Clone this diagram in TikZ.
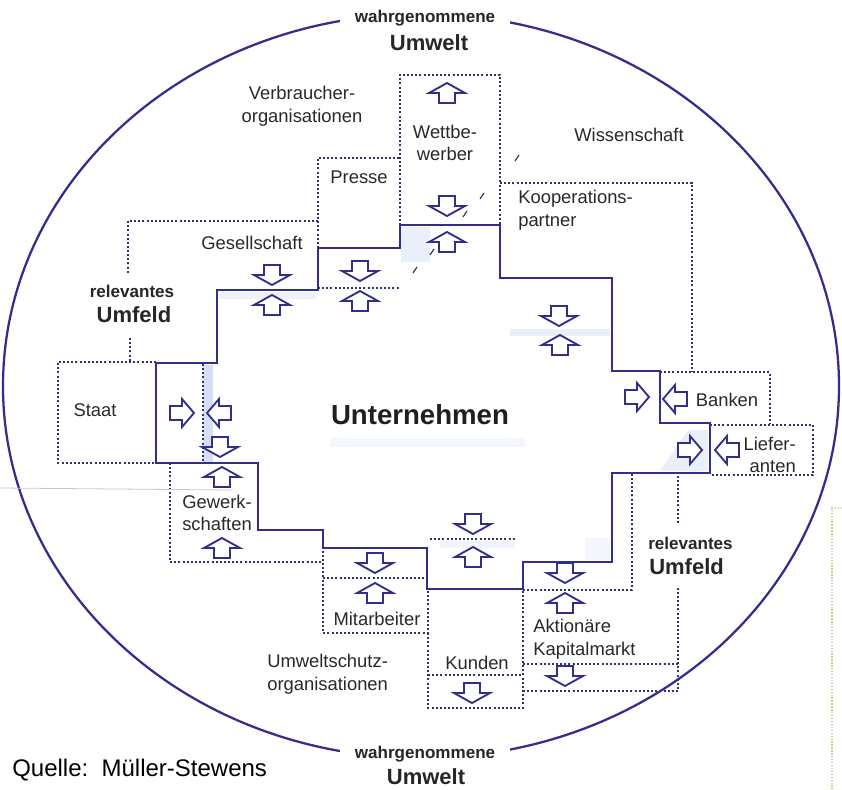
\documentclass[tikz,border=0pt]{standalone}
\usepackage{fontspec}
\setmainfont{Liberation Sans}
\definecolor{ink}{RGB}{50,46,140}
\definecolor{dotc}{RGB}{50,50,105}
\definecolor{txt}{RGB}{40,40,40}
\definecolor{wash}{RGB}{214,224,244}
\definecolor{lime}{RGB}{190,214,140}
\tikzset{
  outline/.style={draw=ink, line width=1.8pt, line join=miter},
  rim/.style={draw=ink, line width=1.7pt},
  dots/.style={draw=dotc, line width=1.8pt, dash pattern=on 1.5pt off 1.6pt},
  blockarrow/.style={draw=ink, line width=1.4pt, fill=white, line join=miter},
  lbl/.style={font=\fontsize{13.8}{17}\selectfont, text=txt, inner sep=0pt, align=center},
  bigbold/.style={font=\bfseries\fontsize{16.5}{19}\selectfont, text=black!85, inner sep=0pt},
  smallbold/.style={font=\bfseries\fontsize{12.8}{15}\selectfont, text=black!85, inner sep=0pt},
  au/.pic={\path[blockarrow] (-8,10) -- (-8,0) -- (-18,0) -- (0,-10) -- (18,0) -- (8,0) -- (8,10) -- cycle;},
  ad/.pic={\path[blockarrow] (-8,-10) -- (-8,0) -- (-18,0) -- (0,10) -- (18,0) -- (8,0) -- (8,-10) -- cycle;},
  ar/.pic={\path[blockarrow] (-12,-7) -- (0,-7) -- (0,-14) -- (12,0) -- (0,14) -- (0,7) -- (-12,7) -- cycle;},
  al/.pic={\path[blockarrow] (12,-7) -- (0,-7) -- (0,-14) -- (-12,0) -- (0,14) -- (0,7) -- (12,7) -- cycle;},
}
\begin{document}
\begin{tikzpicture}[x=0.75pt, y=-0.75pt]
\useasboundingbox (0,0) rectangle (842,789);

% soft print washes inside the company area
\fill[wash] (203,365) rectangle (213,462);
\fill[wash, opacity=0.5] (401,227) rectangle (430,262);
\fill[wash, opacity=0.45] (219,292) rectangle (316,299);
\fill[wash, opacity=0.5] (510,329) rectangle (610,336);
\fill[wash, opacity=0.5] (688,430) -- (708,430) -- (708,471) -- (660,471) -- cycle;
\fill[wash, opacity=0.3] (330,438) rectangle (525,447);
\fill[wash, opacity=0.35] (440,541) rectangle (515,548);
\fill[wash, opacity=0.3] (585,538) rectangle (610,560);

% outer boundary of the perceived environment
\draw[rim] (421,386) ellipse [x radius=418, y radius=372];

% stakeholder fields (dotted)
\draw[dots] (400,225) -- (400,75) -- (500,75) -- (500,225);
\draw[dots] (318,248) -- (318,158) -- (400,158);
\draw[dots] (318,288) -- (400,288);
\draw[dots] (318,221) -- (128,221) -- (128,273);
\draw[dots] (130,338) -- (130,362);
\draw[dots] (156,362) -- (58,362) -- (58,463) -- (156,463);
\draw[dots] (203,364) -- (203,463);
\draw[dots] (170,463) -- (170,562) -- (323,562);
\draw[dots] (323,530) -- (323,633) -- (428,633) -- (428,589);
\draw[dots] (323,578) -- (428,578);
\draw[dots] (428,633) -- (428,708) -- (523,708) -- (523,589);
\draw[dots] (428,675) -- (523,675);
\draw[dots] (430,539) -- (515,539);
\draw[dots] (523,590) -- (632,590) -- (632,473);
\draw[dots] (523,664) -- (678,664);
\draw[dots] (523,691) -- (678,691) -- (678,588);
\draw[dots] (678,523) -- (678,473);
\draw[dots] (500,183) -- (692,183) -- (692,372);
\draw[dots] (660,372) -- (770,372) -- (770,424);
\draw[dots] (710,425) -- (813,425) -- (813,475) -- (710,475);

% the company
\draw[outline] (400,225) -- (500,225) -- (500,278) -- (612,278) -- (612,371)
  -- (660,371) -- (660,423) -- (710,423) -- (710,473) -- (612,473) -- (612,562)
  -- (523,562) -- (523,589) -- (427,589) -- (427,548) -- (323,548) -- (323,530)
  -- (258,530) -- (258,463) -- (156,463) -- (156,363) -- (217,363) -- (217,290)
  -- (318,290) -- (318,248) -- (400,248) -- cycle;

% small print marks
\foreach \px/\py in {517/158, 482/196, 465/214, 432/252, 415/270}
  \draw[dotc, line width=0.9pt] (\px-2,\py+3) -- (\px+2,\py-3);
\draw[black!22, line width=0.6pt] (0,488) -- (232,490);
\draw[lime, line width=0.9pt, dash pattern=on 1pt off 1.2pt] (842,508) -- (832,508) -- (832,789);

% exchange arrows
\pic at (447,93) {au};
\pic at (447,206) {ad};
\pic at (447,242) {au};
\pic at (360,271) {ad};
\pic at (360,301) {au};
\pic at (272,275) {ad};
\pic at (272,305) {au};
\pic at (182,413) {ar};
\pic at (219,413) {al};
\pic at (220,447) {ad};
\pic at (222,477) {au};
\pic at (222,548) {au};
\pic at (375,563) {ad};
\pic at (375,593) {au};
\pic at (473,524) {ad};
\pic at (473,557) {au};
\pic at (472,693) {ad};
\pic at (565,573) {ad};
\pic at (565,603) {au};
\pic at (565,676) {ad};
\pic at (559,316) {ad};
\pic at (560,345) {au};
\pic at (637,397) {ar};
\pic at (675,399) {al};
\pic at (690,450) {ar};
\pic at (727,450) {al};

% labels
\node[smallbold, fill=white, inner xsep=11pt, inner ysep=2pt] (wtop) at (425,18) {wahrgenommene};
\node[bigbold] (utop) at (429,43) {Umwelt};
\node[smallbold, fill=white, inner xsep=11pt, inner ysep=2pt] (wbot) at (425,754) {wahrgenommene};
\node[bigbold] (ubot) at (426,777) {Umwelt};
\node[lbl] (verb) at (302,106) {Verbraucher-\\organisationen};
\node[lbl] (wiss) at (629,135) {Wissenschaft};
\node[lbl] (wett) at (445,143) {Wettbe-\\werber};
\node[lbl] (pres) at (359,177) {Presse};
\node[lbl, anchor=west, align=left] (koop) at (518,210) {Kooperations-\\partner};
\node[lbl] (gese) at (252,243) {Gesellschaft};
\node[smallbold] (rel1) at (132,291) {relevantes};
\node[bigbold] (umf1) at (134,315) {Umfeld};
\node[lbl] (staa) at (95,410) {Staat};
\node[font=\bfseries\fontsize{20.7}{24}\selectfont, text=black!88, inner sep=0pt] (unt) at (420,415) {Unternehmen};
\node[lbl] (bank) at (727,400) {Banken};
\node[lbl, anchor=east, align=right] (lief) at (796,455) {Liefer-\\anten};
\node[lbl, anchor=west, align=left] (gewe) at (182,513) {Gewerk-\\schaften};
\node[smallbold, anchor=west] (rel2) at (648,543) {relevantes};
\node[bigbold, anchor=west] (umf2) at (649,567) {Umfeld};
\node[lbl] (mita) at (377,619) {Mitarbeiter};
\node[lbl, anchor=west, align=left] (akti) at (533,639) {Aktionäre\\Kapitalmarkt};
\node[lbl, anchor=west, align=left] (umws) at (267,674) {Umweltschutz-\\organisationen};
\node[lbl] (kund) at (477,663) {Kunden};
\node[font=\fontsize{18}{21}\selectfont, text=black, inner sep=0pt, anchor=west] (quel) at (12,770) {Quelle:\ \ Müller-Stewens};
\end{tikzpicture}
\end{document}
